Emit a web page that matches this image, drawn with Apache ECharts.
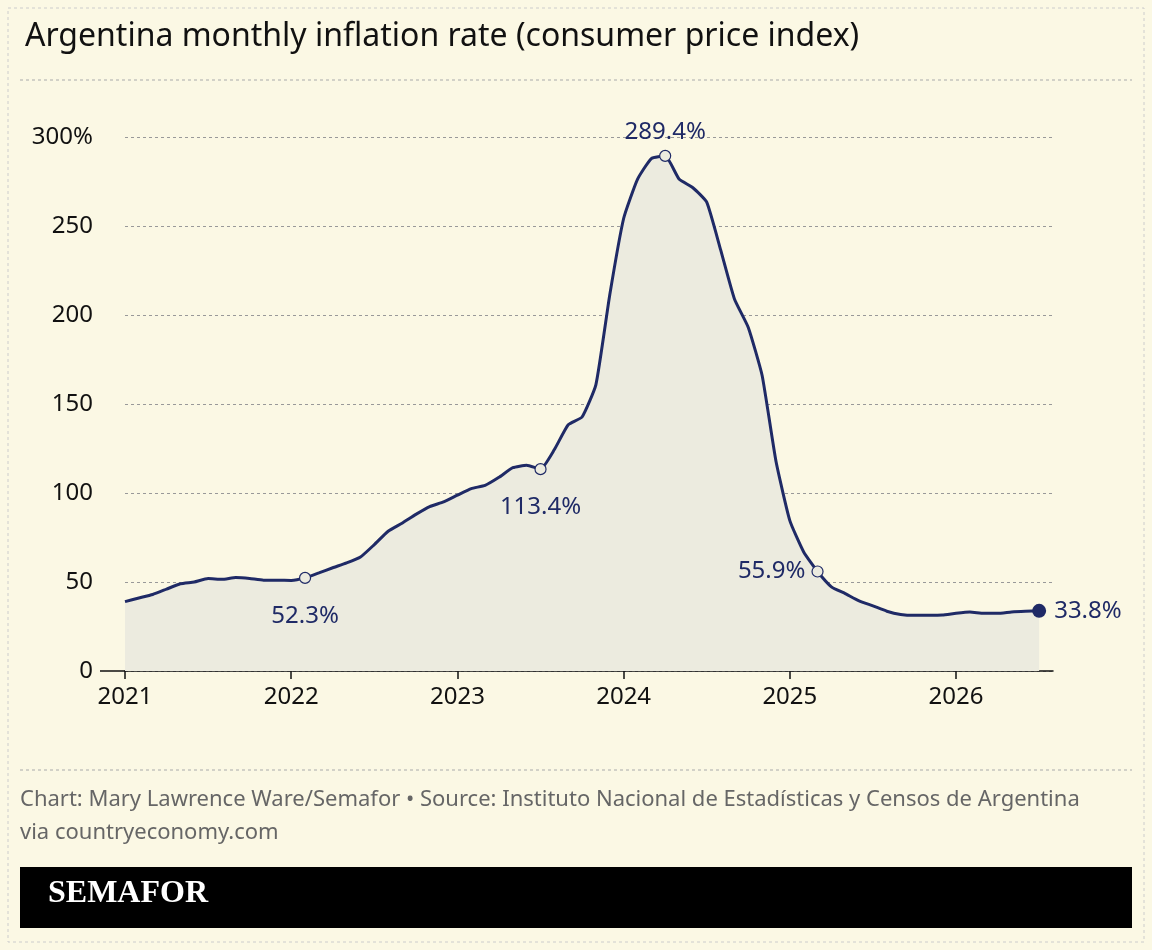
<!DOCTYPE html>
<html><head><meta charset="utf-8">
<script src="https://cdn.jsdelivr.net/npm/echarts@6/dist/echarts.min.js"></script>
<style>
html,body{margin:0;padding:0;background:#fbf8e4;}
#chart{width:1152px;height:950px;}
</style></head>
<body><div id="chart"></div>
<script>
// monthly values, month 0 = Jan 2021
var inflation = [39, 41, 43, 46, 49, 50, 52, 51.5, 52.5, 52, 51, 51,
  50.9, 52.3, 55.1, 58, 60.7, 64, 71, 78.5, 83, 88, 92.4, 95,
  98.8, 102.5, 104.3, 108.8, 114.2, 115.6, 113.4, 124.4, 138.3, 142.7, 160.9, 211.4,
  254.2, 276.2, 287.9, 289.4, 276.4, 271.5, 263.4, 236.7, 209, 193, 166, 117.8,
  84.5, 66.9, 55.9, 47.3, 43.5, 39.4, 36.6, 33.6, 31.8, 31.3, 31.3, 31.4,
  32.4, 33.1, 32.4, 32.4, 33.2, 33.6, 33.8];
var startYear = 2021;
// labelled months: index -> label position
var callouts = {13: 'bottom', 30: 'bottom', 39: 'top', 50: 'left'};
var lastIdx = inflation.length - 1;

var font = '"Noto Sans", sans-serif';
var navy = '#1f2a66';
var data = inflation.map(function (v, i) {
  var item = {value: [i, v]};
  if (callouts[i]) {
    item.symbol = 'circle';
    item.symbolSize = 11;
    item.itemStyle = {color: '#ecebdf', borderColor: navy, borderWidth: 1.2};
    var pos = callouts[i];
    item.label = {show: true, position: pos, distance: pos === 'bottom' ? 14 : 6,
      offset: pos === 'bottom' ? [0, 6] : [0, 0],
      formatter: v.toFixed(1) + '%'};
  }
  if (i === lastIdx) {
    item.symbol = 'circle';
    item.symbolSize = 14;
    item.itemStyle = {color: navy};
    item.label = {show: true, position: 'right', distance: 8, formatter: v.toFixed(1) + '%'};
  }
  return item;
});

var chart = echarts.init(document.getElementById('chart'));
chart.setOption({
  backgroundColor: '#fbf8e4',
  animation: false,
  textStyle: {fontFamily: font},
  title: {
    text: 'Argentina monthly inflation rate (consumer price index)',
    left: 20, top: 16,
    textStyle: {fontSize: 32, fontWeight: 'normal', color: '#111', fontFamily: font}
  },
  grid: {left: 125, right: 99, top: 137, bottom: 279},
  xAxis: {
    type: 'value', min: 0, max: 67, interval: 12,
    splitLine: {show: false},
    axisLine: {show: true, lineStyle: {color: '#111', width: 1.5}},
    axisTick: {show: true, length: 8, lineStyle: {color: '#111', width: 1.5}},
    axisLabel: {color: '#111', fontSize: 24, margin: 14, showMaxLabel: false,
      formatter: function (v) { return v % 12 === 0 ? String(startYear + v / 12) : ''; }}
  },
  yAxis: {
    type: 'value', min: 0, max: 300, interval: 50,
    axisLine: {show: false}, axisTick: {show: false},
    splitLine: {lineStyle: {color: '#999', type: [3, 3]}},
    axisLabel: {color: '#111', fontSize: 24, margin: 32,
      formatter: function (v) { return v === 300 ? '300%' : v; }}
  },
  series: [{
    type: 'line',
    data: data,
    symbol: 'none',
    smooth: 0.15,
    lineStyle: {color: navy, width: 3},
    itemStyle: {color: navy},
    areaStyle: {color: '#ecebdf', opacity: 1},
    label: {color: navy, fontSize: 24, fontFamily: font},
    z: 3
  }],
  graphic: [
    {type: 'rect', shape: {x: 8, y: 8, width: 1136, height: 934},
      style: {fill: 'none', stroke: '#ccc', lineWidth: 1, lineDash: [3, 3]}},
    {type: 'line', shape: {x1: 20, y1: 80, x2: 1132, y2: 80},
      style: {stroke: '#aaa', lineWidth: 1, lineDash: [3, 3]}},
    {type: 'line', shape: {x1: 100, y1: 671, x2: 125, y2: 671},
      style: {stroke: '#111', lineWidth: 1.5}},
    {type: 'line', shape: {x1: 20, y1: 770, x2: 1132, y2: 770},
      style: {stroke: '#aaa', lineWidth: 1, lineDash: [3, 3]}},
    {type: 'text', left: 20, top: 783,
      style: {text: 'Chart: Mary Lawrence Ware/Semafor • Source: Instituto Nacional de Estadísticas y Censos de Argentina\nvia countryeconomy.com',
        fill: '#666', font: '22px ' + font, lineHeight: 33}},
    {type: 'rect', shape: {x: 20, y: 867, width: 1112, height: 61}, style: {fill: '#000'}},
    {type: 'text', left: 48, top: 878,
      style: {text: 'SEMAFOR', fill: '#fff', font: 'bold 32px "Liberation Serif", serif'}}
  ]
});
</script></body></html>
